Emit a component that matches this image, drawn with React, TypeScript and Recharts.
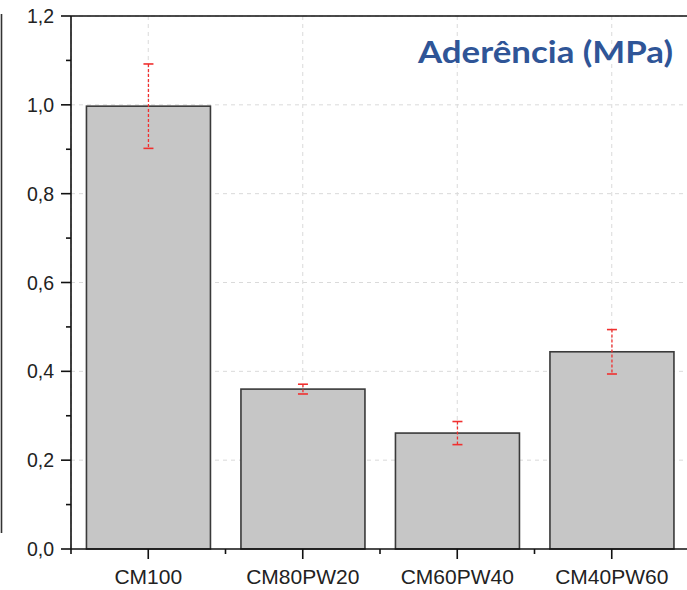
import React from 'react';
import { BarChart, Bar, XAxis, YAxis, CartesianGrid, ReferenceLine } from 'recharts';

const categories = ['CM100', 'CM80PW20', 'CM60PW40', 'CM40PW60'];
const means = [0.997, 0.36, 0.261, 0.444];
const errors = [0.095, 0.011, 0.026, 0.05];
const yTicks = [0, 0.1, 0.2, 0.3, 0.4, 0.5, 0.6, 0.7, 0.8, 0.9, 1.0, 1.1, 1.2];
const yMajor = [0.2, 0.4, 0.6, 0.8, 1.0, 1.2];
const title = 'Aderência (MPa)';

const data = categories.map((c, i) => ({ name: c, value: means[i], err: errors[i] }));

const FONT = '"Liberation Sans", Arial, sans-serif';
const RED = '#f0302f';

const BarWithErr = (props: any) => {
  const { x, y, width, height, payload } = props;
  const ppu = height / payload.value;
  const e = payload.err * ppu;
  const cx = x + width / 2;
  const yTop = y - e;
  const yBot = y + e;
  return (
    <g>
      <rect x={x} y={y} width={width} height={height} fill="#c6c6c6" stroke="#3a3a3a" strokeWidth={1.6} />
      <line x1={cx} x2={cx} y1={yTop} y2={yBot} stroke={RED} strokeWidth={1.3} strokeDasharray="3 2" />
      <line x1={cx - 5} x2={cx + 5} y1={yTop} y2={yTop} stroke={RED} strokeWidth={1.6} />
      <line x1={cx - 5} x2={cx + 5} y1={yBot} y2={yBot} stroke={RED} strokeWidth={1.6} />
    </g>
  );
};

const YTick = (props: any) => {
  const { x, y, payload } = props;
  const v = payload.value as number;
  const major = Math.round(v * 10) % 2 === 0;
  return (
    <g>
      <line x1={x - (major ? 10 : 5)} x2={x} y1={y} y2={y} stroke="#111" strokeWidth={1.6} />
      {major && (
        <text x={x - 17} y={y} dy="0.36em" textAnchor="end" fontFamily={FONT} fontSize={19.5} fill="#222">
          {v.toFixed(1).replace('.', ',')}
        </text>
      )}
    </g>
  );
};

const XTick = (props: any) => {
  const { x, y, payload, index } = props;
  const off = payload && payload.offset ? payload.offset : 77;
  return (
    <g>
      <line x1={x} x2={x} y1={y} y2={y + 10} stroke="#111" strokeWidth={1.6} />
      <line x1={x + off} x2={x + off} y1={y} y2={y + 5} stroke="#111" strokeWidth={1.6} />
      {index === 0 && <line x1={x - off} x2={x - off} y1={y} y2={y + 5} stroke="#111" strokeWidth={1.6} />}
      <text x={x} y={y + 35} textAnchor="middle" fontFamily={FONT} fontSize={21} fill="#222">
        {payload.value}
      </text>
    </g>
  );
};

export default function App() {
  return (
    <div style={{ position: 'absolute', left: 0, top: 0, width: 687, height: 590, overflow: 'hidden', background: '#fff' }}>
      <BarChart width={689} height={590} data={data} margin={{ top: 16, right: 0, left: 0, bottom: 0 }} barCategoryGap="10%">
        <CartesianGrid stroke="#dadada" strokeDasharray="4 4" horizontalValues={yMajor} />
        <XAxis
          dataKey="name"
          height={41}
          tickSize={0}
          tickMargin={0}
          tickLine={false}
          axisLine={{ stroke: '#111', strokeWidth: 1.6 }}
          tick={<XTick />}
          interval={0}
        />
        <YAxis
          width={71}
          domain={[0, 1.2]}
          ticks={yTicks}
          interval={0}
          tickSize={0}
          tickMargin={0}
          tickLine={false}
          axisLine={{ stroke: '#111', strokeWidth: 1.6 }}
          tick={<YTick />}
        />
        <ReferenceLine y={1.2} stroke="#111" strokeWidth={1.6} />
        <Bar dataKey="value" isAnimationActive={false} shape={<BarWithErr />} />
      </BarChart>
      <svg width={687} height={590} style={{ position: 'absolute', left: 0, top: 0, pointerEvents: 'none' }}>
        <line x1={1.5} x2={1.5} y1={14} y2={533} stroke="#333" strokeWidth={1.6} />
        <text x={673} y={63} textAnchor="end" fontFamily="Lato, 'Open Sans', sans-serif" fontWeight={700} fontSize={31} fill="#2f5597" textLength={255} lengthAdjust="spacingAndGlyphs">
          {title}
        </text>
      </svg>
    </div>
  );
}
